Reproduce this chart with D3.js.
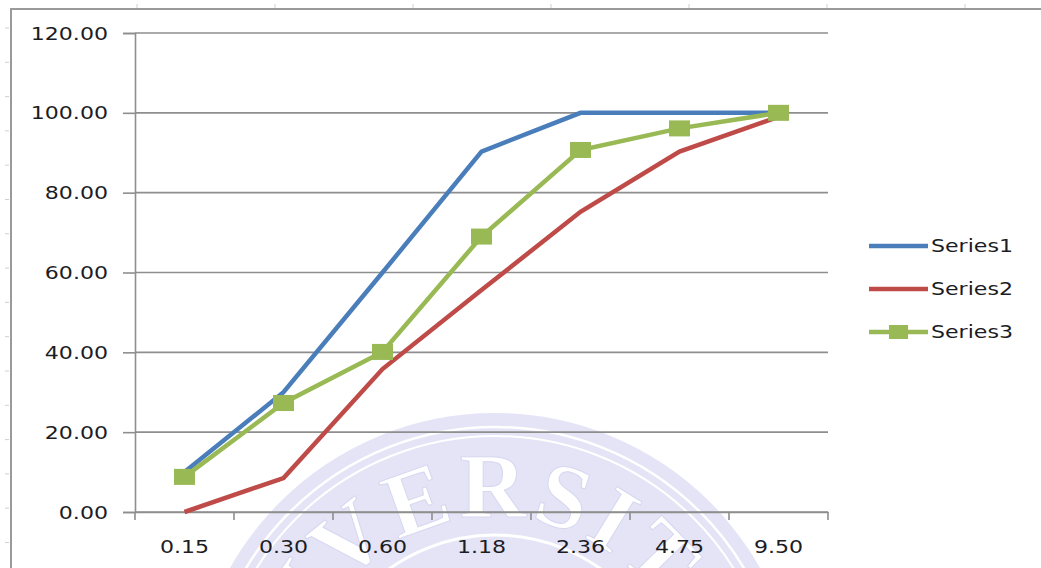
<!DOCTYPE html>
<html>
<head>
<meta charset="utf-8">
<script src="https://cdn.jsdelivr.net/npm/d3@7"></script>
<style>
  html, body { margin: 0; padding: 0; background: #fff; }
  svg { display: block; }
  text { font-family: "DejaVu Sans", Verdana, sans-serif; fill: #1c1c24; }
</style>
</head>
<body>
<svg id="chart" width="1041" height="568"></svg>
<script>
// Sieve sizes (mm) on the category axis
const categories = ["0.15", "0.30", "0.60", "1.18", "2.36", "4.75", "9.50"];
// Cumulative percent passing for each series
const series1 = [10, 30, 60, 90.3, 100, 100, 100];
const series2 = [0, 8.5, 35.8, 55.6, 75.2, 90.3, 99];
const series3 = [8.8, 27.3, 40.1, 69, 90.7, 96.1, 100];
const seriesNames = ["Series1", "Series2", "Series3"];
const yTicks = [0, 20, 40, 60, 80, 100, 120];

const colors = ["#4a7ebb", "#be4b48", "#98b954"];
const stretch = 1.3;           // wide rendering of all chart text
const W = 1041, H = 568;

const svg = d3.select("#chart");

const x = d3.scaleBand().domain(categories).range([135, 828]).padding(0);
const y = d3.scaleLinear().domain([0, 120]).range([512, 33]);
const xc = d => x(d) + x.bandwidth() / 2;

// ---- faint seal in the background ----
const seal = svg.append("g").attr("transform", "translate(495,717)");
seal.append("circle").attr("r", 304).attr("fill", "#e4e4f6");
seal.append("circle").attr("r", 290).attr("fill", "none").attr("stroke", "#fff").attr("stroke-width", 2.5);
seal.append("circle").attr("r", 281).attr("fill", "none").attr("stroke", "#fff").attr("stroke-width", 2);
seal.append("circle").attr("r", 182).attr("fill", "none").attr("stroke", "#fff").attr("stroke-width", 3);
seal.append("path").attr("id", "sealArc")
  .attr("d", "M -200 0 A 200 200 0 0 1 200 0")
  .attr("fill", "none");
seal.append("text")
  .style("font-family", "'Liberation Serif', 'DejaVu Serif', serif")
  .style("font-size", "92px")
  .style("font-weight", "bold")
  .style("letter-spacing", "4px")
  .style("fill", "#ffffff")
  .style("stroke", "#d6d6f0")
  .style("stroke-width", 1)
  .append("textPath")
  .attr("href", "#sealArc")
  .attr("startOffset", "47%")
  .attr("text-anchor", "middle")
  .text("UNIVERSITAS");

// ---- outer frame and ruler marks ----
svg.append("g").selectAll("line").data(d3.range(137, W, 138)).join("line")
  .attr("x1", d => d).attr("x2", d => d).attr("y1", 4).attr("y2", 8)
  .attr("stroke", "#d0d0d0").attr("stroke-width", 1);
svg.append("g").selectAll("line").data(d3.range(28, H, 34.3)).join("line")
  .attr("x1", 5).attr("x2", 9).attr("y1", d => d).attr("y2", d => d)
  .attr("stroke", "#d0d0d0").attr("stroke-width", 1);
svg.append("path")
  .attr("d", `M11,${H} L11,9 L${W},9`)
  .attr("fill", "none").attr("stroke", "#9a9a9a").attr("stroke-width", 2);

// ---- gridlines ----
svg.append("g").selectAll("line").data(yTicks).join("line")
  .attr("x1", 135).attr("x2", 828)
  .attr("y1", d => y(d)).attr("y2", d => y(d))
  .attr("stroke", "#8e8e8e").attr("stroke-width", 1.6);

// ---- y axis ----
const yAxis = svg.append("g").attr("transform", "translate(135,0)")
  .call(d3.axisLeft(y).tickValues(yTicks).tickFormat(d3.format(".2f")).tickSize(12).tickPadding(0));
yAxis.select(".domain").attr("stroke", "#8e8e8e").attr("stroke-width", 1.6);
yAxis.selectAll(".tick line").attr("stroke", "#8e8e8e").attr("stroke-width", 1.6);
yAxis.selectAll(".tick text")
  .attr("x", 0).attr("dy", "0.36em")
  .attr("transform", `translate(-27,0) scale(${stretch},1)`)
  .attr("text-anchor", "end")
  .style("font-size", "17px").style("font-family", "'DejaVu Sans', Verdana, sans-serif")
  .attr("fill", "#1c1c24");

// ---- x axis ----
const xAxis = svg.append("g").attr("transform", `translate(0,${y(0)})`)
  .call(d3.axisBottom(x).tickSize(0).tickPadding(0));
xAxis.select(".domain").attr("stroke", "#8e8e8e").attr("stroke-width", 1.6);
xAxis.selectAll(".tick text")
  .attr("y", 0).attr("dy", 0)
  .attr("transform", `translate(0,41) scale(${stretch},1)`)
  .attr("text-anchor", "middle")
  .style("font-size", "17px").style("font-family", "'DejaVu Sans', Verdana, sans-serif")
  .attr("fill", "#1c1c24");
const bounds = categories.map(c => x(c)).concat([x.range()[1]]);
xAxis.append("g").selectAll("line").data(bounds).join("line")
  .attr("x1", d => d).attr("x2", d => d).attr("y1", 0).attr("y2", 8)
  .attr("stroke", "#8e8e8e").attr("stroke-width", 1.6);

// ---- series lines ----
const line = d3.line().x((d, i) => xc(categories[i])).y(d => y(d));
const allSeries = [series1, series2, series3];
allSeries.forEach((s, k) => {
  svg.append("path").datum(s)
    .attr("d", line)
    .attr("fill", "none")
    .attr("stroke", colors[k])
    .attr("stroke-width", 4.5)
    .attr("stroke-linejoin", "miter");
});

// square markers for Series3
svg.append("g").selectAll("rect").data(series3).join("rect")
  .attr("x", (d, i) => xc(categories[i]) - 10.5)
  .attr("y", d => y(d) - 8)
  .attr("width", 21).attr("height", 16)
  .attr("fill", colors[2]);

// ---- legend ----
const legend = svg.append("g").attr("transform", "translate(869,246)");
const items = legend.selectAll("g").data(seriesNames).join("g")
  .attr("transform", (d, i) => `translate(0,${i * 43})`);
items.append("line")
  .attr("x1", 0).attr("x2", 59).attr("y1", 0).attr("y2", 0)
  .attr("stroke", (d, i) => colors[i]).attr("stroke-width", 4.5);
items.filter((d, i) => i === 2).append("rect")
  .attr("x", 20).attr("y", -7).attr("width", 19).attr("height", 14)
  .attr("fill", colors[2]);
items.append("text")
  .attr("transform", `translate(62,0) scale(${stretch},1)`)
  .attr("dy", "0.36em")
  .style("font-size", "17px")
  .text(d => d);
</script>
</body>
</html>
